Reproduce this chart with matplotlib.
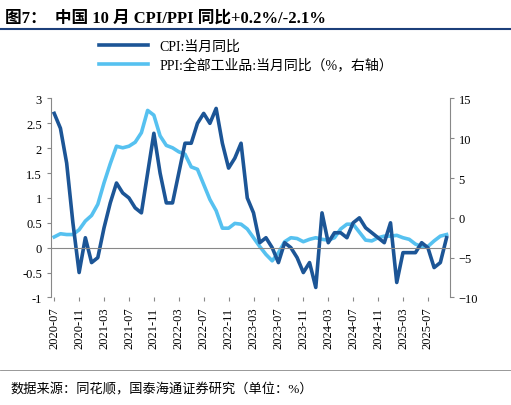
import matplotlib
matplotlib.use('Agg')
import matplotlib.pyplot as plt

plt.rcParams['font.family'] = ['Liberation Serif', 'Noto Sans CJK SC']

months = [f'{y}-{m:02d}' for y in range(2020, 2026) for m in range(1, 13)]
months = months[months.index('2020-07'):months.index('2025-10') + 1]

cpi = [2.7, 2.4, 1.7, 0.5, -0.5, 0.2,
       -0.3, -0.2, 0.4, 0.9, 1.3, 1.1, 1.0, 0.8, 0.7, 1.5, 2.3, 1.5,
       0.9, 0.9, 1.5, 2.1, 2.1, 2.5, 2.7, 2.5, 2.8, 2.1, 1.6, 1.8,
       2.1, 1.0, 0.7, 0.1, 0.2, 0.0, -0.3, 0.1, 0.0, -0.2, -0.5, -0.3,
       -0.8, 0.7, 0.1, 0.3, 0.3, 0.2, 0.5, 0.6, 0.4, 0.3, 0.2, 0.1,
       0.5, -0.7, -0.1, -0.1, -0.1, 0.1, 0.0, -0.4, -0.3, 0.2]
ppi = [-2.4, -2.0, -2.1, -2.1, -1.5, -0.4,
       0.3, 1.7, 4.4, 6.8, 9.0, 8.8, 9.0, 9.5, 10.7, 13.5, 12.9, 10.3,
       9.1, 8.8, 8.3, 8.0, 6.4, 6.1, 4.2, 2.3, 0.9, -1.3, -1.3, -0.7,
       -0.8, -1.4, -2.5, -3.6, -4.6, -5.4, -4.4, -3.0, -2.5, -2.6, -3.0, -2.7,
       -2.5, -2.7, -2.8, -2.5, -1.4, -0.8, -0.8, -1.8, -2.8, -2.9, -2.5, -2.3,
       -2.3, -2.2, -2.5, -2.7, -3.3, -3.6, -3.6, -2.9, -2.3, -2.1]

x = list(range(len(months)))
fig = plt.figure(figsize=(5.11, 4.06), dpi=100)
ax = fig.add_axes([0.1, 0.265, 0.78, 0.49])
ax2 = ax.twinx()

l1, = ax.plot(x, cpi, color='#1c5596', lw=2.6, label='CPI:当月同比')
l2, = ax2.plot(x, ppi, color='#56c1f0', lw=2.6, label='PPI:全部工业品:当月同比（%，右轴）')
ax.set_zorder(ax2.get_zorder() + 1)
ax.patch.set_visible(False)

ax.set_ylim(-1, 3)
ax2.set_ylim(-10, 15)
ax.set_yticks([-1, -0.5, 0, 0.5, 1, 1.5, 2, 2.5, 3])
ax.set_yticklabels(['-1', '-0.5', '0', '0.5', '1', '1.5', '2', '2.5', '3'])
ax2.set_yticks([-10, -5, 0, 5, 10, 15])
ax.set_xlim(-0.5, len(x) - 0.5)
ax.set_xticks(x[::4])
ax.set_xticklabels(months[::4], rotation=90)
for a in (ax, ax2):
    a.tick_params(labelsize=9, length=0)
    for s in ['top', 'right', 'left', 'bottom']:
        a.spines[s].set_visible(False)
ax2.spines['right'].set_visible(True)
ax2.spines['right'].set_color('#888888')
ax.axhline(0, color='#888888', lw=0.8)
ax.spines['left'].set_visible(True)
ax.spines['left'].set_color('#888888')
ax.tick_params(axis='both', length=3, color='#888888')
ax2.tick_params(axis='y', length=3, color='#888888')

fig.legend(handles=[l1, l2], loc='upper left', bbox_to_anchor=(0.17, 0.93),
           frameon=False, fontsize=10, handlelength=3.5, labelspacing=0.3)

fig.text(0.01, 0.955, '图7：  中国 10 月 CPI/PPI 同比+0.2%/-2.1%', fontsize=12,
         fontweight='bold', va='center')
fig.add_artist(plt.Line2D([0, 1], [0.925, 0.925], color='#1c3f7a', lw=1.5))
fig.add_artist(plt.Line2D([0, 1], [0.085, 0.085], color='#888888', lw=0.6))
fig.text(0.02, 0.04, '数据来源：同花顺，国泰海通证券研究（单位：%）', fontsize=9.5, va='center')

fig.savefig('out.png', dpi=100)
